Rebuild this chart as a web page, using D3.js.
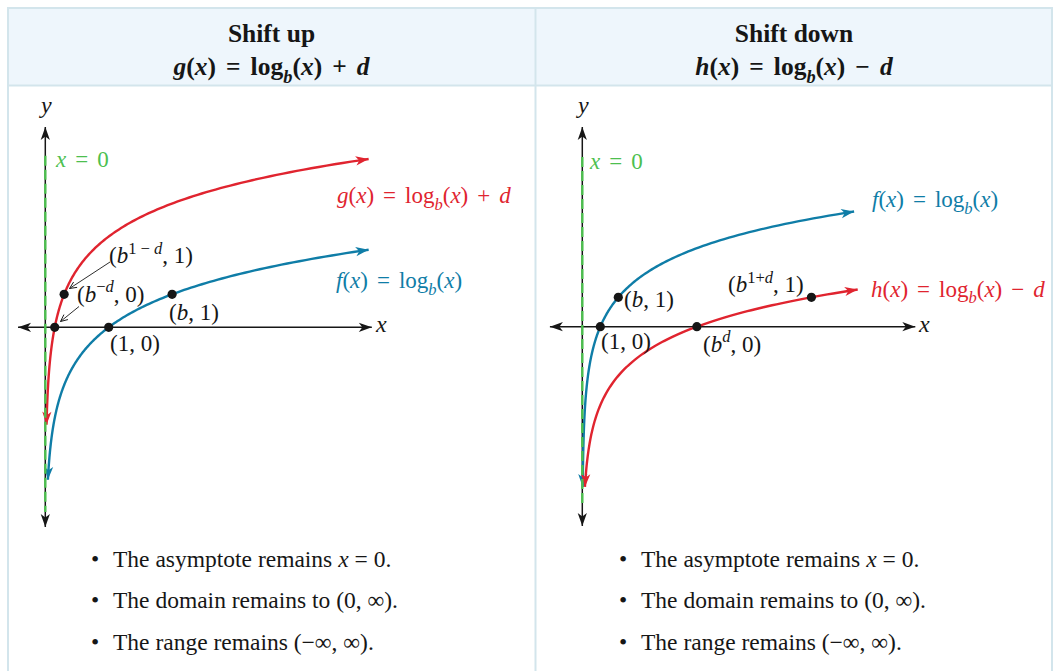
<!DOCTYPE html>
<html>
<head>
<meta charset="utf-8">
<script src="https://cdn.jsdelivr.net/npm/d3@7"></script>
<style>
  body { margin: 0; background: #fff; }
  svg text { font-family: "Liberation Serif", "DejaVu Serif", serif; white-space: pre; }
</style>
</head>
<body>
<svg id="chart" width="1055" height="671"></svg>
<script>
// --- values ---
const base = 2;                 // b
const shiftUp = 2.75;           // d in g(x) = log_b(x) + d
const shiftDown = 2.67;         // d in h(x) = log_b(x) - d
const panelTitles = ['Shift up', 'Shift down'];
// axis extents in data units [min, max]
const upXAxis = [-0.43, 5.15], upYAxis = [-6.05, 6.07];
const downXAxis = [-1.8, 18.5], downYAxis = [-6.78, 6.79];
// asymptote x = 0 drawn between these y values
const upAsymptote = [-5.6, 5.2], downAsymptote = [-6.06, 5.77];
// curves: shift, lowest y reached, largest x reached
const upCurves = [
  { name: 'f', shift: 0, yMin: -4.62, xMax: 5.1, color: 'blue' },
  { name: 'g', shift: shiftUp, yMin: -2.95, xMax: 5.1, color: 'red' }
];
const downCurves = [
  { name: 'f', shift: 0, yMin: -5.45, xMax: 15.1, color: 'blue' },
  { name: 'h', shift: -shiftDown, yMin: -5.45, xMax: 15.3, color: 'red' }
];
const bullets = [
  [['The asymptote remains '], ['x', 'i'], ['=', '', 6], ['0.', '', 6]],
  [['The domain remains to (0, ∞).']],
  [['The range remains (−∞, ∞).']]
];

const colors = { red: '#e0242f', blue: '#0f7da7', green: '#4dbf4f', black: '#161616', border: '#d3e5ec', head: '#eef6fc' };

const svg = d3.select('#chart');
const defs = svg.append('defs');

function arrowMarker(id, color) {
  defs.append('marker')
    .attr('id', id)
    .attr('viewBox', '-14 -6 15 12')
    .attr('refX', 0).attr('refY', 0)
    .attr('markerWidth', 15).attr('markerHeight', 12)
    .attr('markerUnits', 'userSpaceOnUse')
    .attr('orient', 'auto-start-reverse')
    .append('path')
    .attr('d', 'M0,0 L-13,-4.6 L-9.5,0 L-13,4.6 Z')
    .attr('fill', color);
}
arrowMarker('arr-red', colors.red);
arrowMarker('arr-blue', colors.blue);
arrowMarker('arr-black', colors.black);
defs.append('marker')
  .attr('id', 'arr-open')
  .attr('viewBox', '-8 -4 9 8')
  .attr('refX', 0).attr('refY', 0)
  .attr('markerWidth', 9).attr('markerHeight', 8)
  .attr('markerUnits', 'userSpaceOnUse')
  .attr('orient', 'auto')
  .append('path')
  .attr('d', 'M-7,-3.2 L0,0 L-7,3.2')
  .attr('fill', 'none').attr('stroke', colors.black).attr('stroke-width', 0.9);

// rich text: parts are [text, flags, dx]; flags: i italic, b bold, ^ sup, _ sub
function rich(sel, x, y, size, parts, color, anchor) {
  const t = sel.append('text').attr('x', x).attr('y', y)
    .style('font-size', size + 'px').attr('fill', color || colors.black)
    .attr('text-anchor', anchor || 'start');
  let shift = 0;
  parts.forEach(p => {
    const str = p[0], f = p[1] || '';
    let target = 0, fs = size;
    if (f.includes('^')) { target = -0.4 * size; fs = 0.72 * size; }
    if (f.includes('_')) { target = 0.3 * size; fs = 0.72 * size; }
    const ts = t.append('tspan').text(str).style('font-size', fs + 'px');
    if (target - shift !== 0) ts.attr('dy', target - shift);
    shift = target;
    if (p[2]) ts.attr('dx', p[2]);
    if (f.includes('i')) ts.style('font-style', 'italic');
    if (f.includes('b')) ts.style('font-weight', 'bold');
  });
  return t;
}

// --- table frame ---
svg.append('rect').attr('x', 9).attr('y', 9).attr('width', 1042).attr('height', 76).attr('fill', colors.head);
const frame = svg.append('g').attr('stroke', colors.border).attr('stroke-width', 2);
frame.append('line').attr('x1', 7).attr('x2', 1053).attr('y1', 8).attr('y2', 8);
frame.append('line').attr('x1', 7).attr('x2', 1053).attr('y1', 85.5).attr('y2', 85.5);
[8, 535.5, 1052].forEach(x => frame.append('line').attr('x1', x).attr('x2', x).attr('y1', 7).attr('y2', 671));

// headers
const hs = 10;
const headFormulas = [
  [['g', 'bi'], ['(', 'b'], ['x', 'bi'], [')', 'b'], ['=', 'b', hs], ['log', 'b', hs], ['b', 'bi_'], ['(', 'b'], ['x', 'bi'], [')', 'b'], ['+', 'b', hs], ['d', 'bi', hs]],
  [['h', 'bi'], ['(', 'b'], ['x', 'bi'], [')', 'b'], ['=', 'b', hs], ['log', 'b', hs], ['b', 'bi_'], ['(', 'b'], ['x', 'bi'], [')', 'b'], ['−', 'b', hs], ['d', 'bi', hs]]
];
[271.5, 794].forEach((cx, i) => {
  rich(svg, cx, 42, 25.5, [[panelTitles[i], 'b']], colors.black, 'middle');
  rich(svg, cx, 75, 25.5, headFormulas[i], colors.black, 'middle');
});

// --- one panel ---
function panel(opt) {
  const g = svg.append('g');
  const x = d3.scaleLinear().domain([0, 1]).range([opt.ox, opt.ox + opt.ux]);
  const y = d3.scaleLinear().domain([0, 1]).range([opt.oy, opt.oy - opt.uy]);

  // axes
  g.append('line').attr('x1', x(opt.xAxis[0])).attr('x2', x(opt.xAxis[1])).attr('y1', y(0)).attr('y2', y(0))
    .attr('stroke', colors.black).attr('stroke-width', 1.5)
    .attr('marker-start', 'url(#arr-black)').attr('marker-end', 'url(#arr-black)');
  g.append('line').attr('x1', x(0)).attr('x2', x(0)).attr('y1', y(opt.yAxis[0])).attr('y2', y(opt.yAxis[1]))
    .attr('stroke', colors.black).attr('stroke-width', 1.5)
    .attr('marker-start', 'url(#arr-black)').attr('marker-end', 'url(#arr-black)');
  rich(g, opt.xLabel[0], opt.xLabel[1], 24, [['x', 'i']]);
  rich(g, opt.yLabel[0], opt.yLabel[1], 24, [['y', 'i']]);

  // curves y = log_b(x) + shift
  const line = d3.line().x(d => x(d[0])).y(d => y(d[1]));
  opt.curves.forEach(c => {
    const x0 = Math.pow(base, c.yMin - c.shift), n = 200;
    const pts = d3.range(n + 1).map(i => {
      const xv = x0 * Math.pow(c.xMax / x0, i / n);
      return [xv, Math.log(xv) / Math.log(base) + c.shift];
    });
    g.append('path').attr('d', line(pts)).attr('fill', 'none')
      .attr('stroke', colors[c.color]).attr('stroke-width', 2.4)
      .attr('marker-start', 'url(#arr-' + c.color + ')').attr('marker-end', 'url(#arr-' + c.color + ')');
  });

  // asymptote
  g.append('line').attr('x1', x(0)).attr('x2', x(0)).attr('y1', y(opt.asym[1])).attr('y2', y(opt.asym[0]))
    .attr('stroke', colors.green).attr('stroke-width', 2.4).attr('stroke-dasharray', '10,4');

  // points
  g.selectAll('circle.pt').data(opt.points).join('circle').attr('class', 'pt')
    .attr('cx', d => x(d[0])).attr('cy', d => y(d[1])).attr('r', 4.6).attr('fill', colors.black);

  // leaders
  (opt.leaders || []).forEach(l => {
    g.append('line').attr('x1', l[0]).attr('y1', l[1]).attr('x2', l[2]).attr('y2', l[3])
      .attr('stroke', colors.black).attr('stroke-width', 0.9).attr('marker-end', 'url(#arr-open)');
  });

  opt.labels.forEach(l => rich(g, l.x, l.y, l.size || 23, l.parts, l.color));
}

const ls = 9;
const fParts = [['f', 'i'], ['('], ['x', 'i'], [')'], ['=', '', ls], ['log', '', ls], ['b', 'i_'], ['('], ['x', 'i'], [')']];
const asymParts = [['x', 'i'], ['=', '', ls], ['0', '', ls]];

panel({
  ox: 45.3, oy: 327.3, ux: 63.4, uy: 33,
  xAxis: upXAxis, yAxis: upYAxis, asym: upAsymptote, curves: upCurves,
  xLabel: [376, 332], yLabel: [41, 113],
  points: [[1, 0], [base, 1], [Math.pow(base, -shiftUp), 0], [Math.pow(base, 1 - shiftUp), 1]],
  leaders: [[110, 262, 69.5, 288.5], [79, 306.5, 60.5, 321.5]],
  labels: [
    { x: 56, y: 167, parts: asymParts, color: colors.green },
    { x: 337, y: 203, color: colors.red, parts: [['g', 'i'], ['('], ['x', 'i'], [')'], ['=', '', ls], ['log', '', ls], ['b', 'i_'], ['('], ['x', 'i'], [')'], ['+', '', ls], ['d', 'i', ls]] },
    { x: 336, y: 288, color: colors.blue, parts: fParts },
    { x: 109, y: 263, parts: [['('], ['b', 'i'], ['1 − ', '^'], ['d', '^i'], [', 1)']] },
    { x: 77, y: 301.5, parts: [['('], ['b', 'i'], ['−', '^'], ['d', '^i'], [', 0)']] },
    { x: 169, y: 319.5, parts: [['('], ['b', 'i'], [', 1)']] },
    { x: 110, y: 351, parts: [['(1, 0)']] }
  ]
});

panel({
  ox: 582.3, oy: 326.7, ux: 18, uy: 29.4,
  xAxis: downXAxis, yAxis: downYAxis, asym: downAsymptote, curves: downCurves,
  xLabel: [919, 332], yLabel: [578, 113],
  points: [[1, 0], [base, 1], [Math.pow(base, shiftDown), 0], [Math.pow(base, 1 + shiftDown), 1]],
  labels: [
    { x: 590, y: 169, parts: asymParts, color: colors.green },
    { x: 872, y: 207, color: colors.blue, parts: fParts },
    { x: 871, y: 296.5, color: colors.red, parts: [['h', 'i'], ['('], ['x', 'i'], [')'], ['=', '', ls], ['log', '', ls], ['b', 'i_'], ['('], ['x', 'i'], [')'], ['−', '', ls], ['d', 'i', ls]] },
    { x: 728, y: 292, parts: [['('], ['b', 'i'], ['1+', '^'], ['d', '^i'], [', 1)']] },
    { x: 624, y: 306.5, parts: [['('], ['b', 'i'], [', 1)']] },
    { x: 601, y: 349, parts: [['(1, 0)']] },
    { x: 703, y: 351.5, parts: [['('], ['b', 'i'], ['d', '^i'], [', 0)']] }
  ]
});

// bullet lists
[[91, 113], [619, 641]].forEach(p => {
  bullets.forEach((parts, i) => {
    const yy = 566.5 + i * 41.8;
    rich(svg, p[0], yy, 23.5, [['•']]);
    rich(svg, p[1], yy, 23.5, parts);
  });
});
</script>
</body>
</html>
